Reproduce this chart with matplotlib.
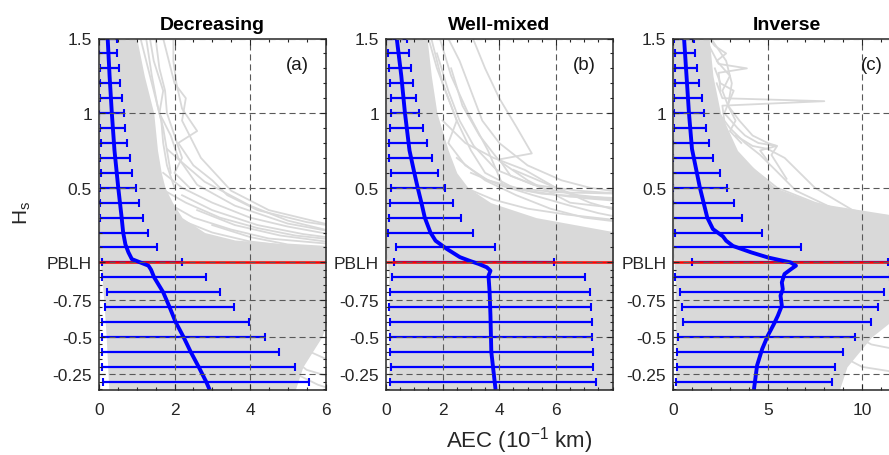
import matplotlib
matplotlib.use("Agg")
import matplotlib.pyplot as plt
from matplotlib.ticker import FixedLocator

plt.rcParams['font.family'] = ['Liberation Sans', 'DejaVu Sans']
plt.rcParams['mathtext.default'] = 'regular'

# normalised height of the error-bar rows (PBLH = 0, below PBLH runs downwards)
levels = [1.5, 1.4, 1.3, 1.2, 1.1, 1.0, 0.9, 0.8, 0.7, 0.6, 0.5, 0.4, 0.3, 0.2, 0.1,
          0.0, -0.1, -0.2, -0.3, -0.4, -0.5, -0.6, -0.7, -0.8]

# mean and std of AEC at each row
a_bar_mean = [0.23, 0.25, 0.27, 0.29, 0.31, 0.34, 0.36, 0.39, 0.42, 0.47, 0.51, 0.55, 0.60, 0.64, 0.75,
              1.15, 1.46, 1.70, 1.87, 2.03, 2.24, 2.43, 2.64, 2.84]
a_bar_std = [0.24, 0.24, 0.25, 0.26, 0.29, 0.33, 0.34, 0.34, 0.39, 0.41, 0.48, 0.52, 0.57, 0.67, 0.79,
             1.06, 1.37, 1.50, 1.71, 1.94, 2.16, 2.35, 2.55, 2.73]
b_bar_mean = [0.38, 0.43, 0.49, 0.54, 0.61, 0.67, 0.73, 0.79, 0.86, 1.00, 1.12, 1.25, 1.37, 1.57, 2.10,
              3.10, 3.62, 3.66, 3.68, 3.70, 3.71, 3.72, 3.74, 3.78]
b_bar_std = [0.37, 0.37, 0.39, 0.40, 0.45, 0.51, 0.59, 0.67, 0.77, 0.84, 0.96, 1.12, 1.27, 1.49, 1.74,
             2.82, 3.42, 3.53, 3.56, 3.56, 3.57, 3.58, 3.58, 3.65]
c_bar_mean = [0.57, 0.62, 0.68, 0.73, 0.78, 0.83, 0.88, 0.95, 1.05, 1.20, 1.41, 1.58, 1.80, 2.40, 3.30,
              6.20, 5.80, 5.78, 5.66, 5.50, 4.95, 4.60, 4.38, 4.26]
c_bar_std = [0.54, 0.53, 0.59, 0.65, 0.72, 0.79, 0.85, 0.95, 1.04, 1.28, 1.43, 1.61, 1.85, 2.29, 3.47,
             5.20, 5.70, 5.40, 5.21, 4.98, 4.68, 4.41, 4.19, 4.14]

# mean AEC profiles (fine vertical resolution)
a_prof_y = [1.5, 1.25, 1.0, 0.75, 0.5, 0.3, 0.2, 0.12, 0.067, 0.022, 0.0, -0.022, -0.05, -0.1,
            -0.2, -0.3, -0.4, -0.5, -0.6, -0.7, -0.8, -0.853]
a_prof_x = [0.23, 0.28, 0.34, 0.41, 0.51, 0.60, 0.64, 0.70, 0.78, 0.87, 1.09, 1.31, 1.38, 1.46,
            1.70, 1.87, 2.03, 2.24, 2.43, 2.64, 2.84, 2.93]
b_prof_y = [1.5, 1.25, 1.0, 0.75, 0.6, 0.5, 0.4, 0.3, 0.2, 0.145, 0.09, 0.035, 0.01, -0.01,
            -0.033, -0.056, -0.09, -0.2, -0.36, -0.6, -0.853]
b_prof_x = [0.38, 0.54, 0.67, 0.83, 1.00, 1.12, 1.25, 1.37, 1.57, 1.75, 2.15, 2.61, 2.96, 3.27,
            3.56, 3.69, 3.62, 3.66, 3.69, 3.72, 3.87]
c_prof_y = [1.5, 1.25, 1.0, 0.76, 0.5, 0.3, 0.223, 0.174, 0.145, 0.11, 0.067, 0.033, 0.011, 0.0,
            -0.022, -0.045, -0.078, -0.134, -0.18, -0.223, -0.29, -0.357, -0.413, -0.49, -0.58,
            -0.69, -0.853]
c_prof_x = [0.57, 0.70, 0.83, 0.99, 1.41, 1.80, 2.10, 2.63, 2.80, 3.16, 4.13, 5.01, 5.80, 6.21,
            6.50, 6.24, 5.89, 5.75, 5.80, 5.68, 5.75, 5.54, 5.33, 5.01, 4.71, 4.44, 4.27]

# envelope of the bulk of individual profiles
core_y = [1.5, 1.25, 1.0, 0.75, 0.6, 0.5, 0.4, 0.3, 0.2, 0.15, 0.1, 0.05, 0.0,
          -0.1, -0.3, -0.5, -0.7, -0.853]
a_core_lo = [0, 0, 0, 0, 0, 0, 0, 0, 0, 0, 0, 0, 0.03, 0.08, 0.14, 0.19, 0.23, 0.26]
a_core_hi = [1.0, 1.2, 1.45, 1.55, 1.65, 1.75, 1.95, 2.2, 2.8, 3.6, 6.2, 6.2, 6.2, 6.2, 6.2, 5.9, 5.4, 5.2]
b_core_lo = [0, 0, 0, 0, 0, 0, 0, 0, 0, 0, 0, 0, 0.05, 0.1, 0.1, 0.1, 0.1, 0.1]
b_core_hi = [1.45, 1.6, 1.8, 2.2, 2.5, 2.9, 3.7, 5.3, 8.2, 8.2, 8.2, 8.2, 8.2, 8.2, 8.2, 8.2, 8.2, 8.2]
c_core_lo = [0, 0, 0, 0, 0, 0, 0, 0, 0, 0, 0, 0, 0.05, 0.1, 0.1, 0.1, 0.12, 0.15]
c_core_hi = [1.9, 2.1, 2.5, 3.4, 4.5, 5.4, 7.5, 12.5, 12.5, 12.5, 12.5, 12.5, 12.5, 12.5, 12.5,
             10.5, 9.2, 8.8]

# individual profiles standing out from the bulk: (AEC, height)
a_profiles = [
    ([1.97, 1.97, 2.05, 2.2, 2.6, 2.1, 2.5, 3.0, 3.4, 4.2, 5.5, 6.3], [1.5, 1.35, 1.2, 1.03, 0.88, 0.8, 0.65, 0.55, 0.45, 0.35, 0.27, 0.24]),
    ([1.5, 1.6, 1.75, 1.8, 2.0, 2.2, 2.0, 2.4], [1.5, 1.3, 1.15, 1.0, 0.85, 0.7, 0.6, 0.5]),
    ([1.25, 1.4, 1.55, 1.7, 1.8, 1.9], [1.5, 1.25, 1.05, 0.9, 0.75, 0.6]),
    ([1.1, 1.3, 1.5, 1.65, 1.7, 1.8, 2.0], [1.5, 1.3, 1.1, 0.95, 0.8, 0.65, 0.5]),
    ([1.35, 1.45, 1.7, 1.6, 1.9, 2.1, 2.6, 3.6, 5.0, 6.3], [1.5, 1.35, 1.15, 1.0, 0.85, 0.7, 0.52, 0.38, 0.26, 0.2]),
    ([1.7, 1.8, 2.0, 2.3, 2.2, 2.7, 3.5, 4.5, 6.3], [1.5, 1.4, 1.2, 1.1, 0.95, 0.7, 0.48, 0.35, 0.24]),
    ([1.8, 2.2, 2.8, 3.1, 4.0, 5.0, 6.3], [0.76, 0.67, 0.54, 0.5, 0.38, 0.28, 0.2]),
    ([1.7, 2.2, 3.0, 4.0, 5.0, 6.3], [0.6, 0.5, 0.4, 0.3, 0.24, 0.18]),
    ([1.6, 2.3, 3.2, 4.2, 5.2, 6.3], [0.5, 0.4, 0.3, 0.23, 0.18, 0.15]),
    ([2.2, 3.0, 4.2, 5.4, 6.3], [0.45, 0.35, 0.25, 0.19, 0.16]),
    ([1.8, 2.5, 3.5, 4.5, 6.3], [0.4, 0.3, 0.22, 0.16, 0.12]),
    ([2.6, 3.6, 4.8, 6.3], [0.35, 0.25, 0.18, 0.13]),
    ([2.0, 3.0, 4.0, 5.0, 6.3], [0.3, 0.2, 0.14, 0.11, 0.09]),
    ([3.0, 4.0, 5.0, 6.3], [0.25, 0.17, 0.12, 0.1]),
    ([5.0, 5.6, 6.3], [-0.45, -0.6, -0.68]),
    ([4.9, 5.5, 6.3], [-0.6, -0.72, -0.78]),
    ([5.0, 5.8, 6.3], [-0.72, -0.82, -0.86]),
]
b_profiles = [
    ([3.07, 3.5, 4.0, 4.6, 5.15, 4.0, 4.4, 5.5, 6.8, 8.3], [1.5, 1.3, 1.1, 0.91, 0.73, 0.69, 0.58, 0.5, 0.45, 0.42]),
    ([1.9, 2.3, 2.9, 3.6, 4.14, 5.5, 7.0, 8.3], [1.5, 1.25, 1.0, 0.75, 0.51, 0.46, 0.44, 0.43]),
    ([1.6, 2.0, 2.5, 3.0, 3.5, 4.5, 6.0, 8.3], [1.5, 1.2, 0.95, 0.75, 0.6, 0.5, 0.47, 0.46]),
    ([1.5, 1.8, 2.2, 2.5, 2.2, 2.8, 3.6, 5.0, 6.5, 8.3], [1.5, 1.3, 1.1, 0.95, 0.8, 0.65, 0.55, 0.48, 0.44, 0.42]),
    ([2.2, 2.6, 3.0, 3.4, 4.0, 5.0, 6.2, 7.2, 8.3], [1.5, 1.35, 1.15, 0.95, 0.8, 0.65, 0.55, 0.5, 0.47]),
    ([1.8, 2.2, 2.6, 3.1, 3.9, 5.2, 6.8, 8.3], [1.4, 1.15, 0.95, 0.78, 0.62, 0.52, 0.48, 0.46]),
    ([2.3, 2.7, 3.3, 4.0, 5.0, 6.5, 8.3], [1.3, 1.05, 0.85, 0.68, 0.55, 0.4, 0.36]),
    ([2.0, 2.8, 3.8, 4.9, 6.0, 7.2, 8.3], [0.95, 0.8, 0.7, 0.62, 0.5, 0.4, 0.34]),
    ([2.5, 3.5, 4.6, 5.8, 7.0, 8.3], [0.7, 0.55, 0.45, 0.36, 0.3, 0.27]),
    ([4.5, 6.0, 7.0, 8.3], [0.62, 0.5, 0.43, 0.41]),
    ([3.0, 4.0, 5.2, 6.5, 7.5, 8.3], [0.6, 0.52, 0.45, 0.38, 0.33, 0.3]),
    ([2.8, 3.8, 5.0, 6.4, 8.3], [0.5, 0.42, 0.36, 0.32, 0.28]),
]
c_profiles = [
    ([2.3, 2.6, 8.0, 2.6, 2.7], [1.2, 1.1, 1.08, 1.05, 0.95]),
    ([1.9, 2.4, 3.9, 2.4, 2.5], [1.45, 1.33, 1.3, 1.27, 1.15]),
    ([1.9, 2.2, 2.8, 2.3, 3.0, 2.6, 2.9, 3.3, 3.0, 3.6], [1.5, 1.45, 1.4, 1.35, 1.25, 1.15, 1.05, 0.95, 0.88, 0.8]),
    ([2.2, 2.5, 3.2, 2.7, 3.4, 3.8, 4.5, 5.47, 4.6, 5.0], [1.3, 1.2, 1.15, 1.0, 0.9, 0.85, 0.8, 0.78, 0.75, 0.68]),
    ([2.0, 2.8, 3.1, 2.9, 3.5, 4.2, 5.0, 5.5, 5.2, 6.0], [1.5, 1.35, 1.2, 1.05, 0.95, 0.85, 0.8, 0.78, 0.72, 0.56]),
    ([2.4, 3.0, 3.8, 4.6, 5.4, 6.5, 8.5, 12.5], [1.0, 0.9, 0.8, 0.72, 0.62, 0.48, 0.36, 0.28]),
    ([3.3, 4.2, 5.0, 5.9, 7.5, 9.5, 12.5], [0.85, 0.78, 0.76, 0.7, 0.5, 0.35, 0.26]),
    ([3.25, 4.5, 6.0, 8.0, 10.0, 12.5], [0.58, 0.45, 0.37, 0.3, 0.26, 0.24]),
    ([4.0, 5.5, 7.5, 9.5, 12.5], [0.65, 0.5, 0.4, 0.33, 0.3]),
    ([4.5, 6.0, 8.0, 10.0, 12.5], [0.55, 0.42, 0.34, 0.3, 0.27]),
    ([5.0, 7.0, 9.0, 12.5], [0.45, 0.36, 0.32, 0.29]),
    ([9.0, 10.5, 12.5], [-0.45, -0.55, -0.6]),
    ([8.5, 10.0, 12.5], [-0.6, -0.7, -0.75]),
]

titles = ['Decreasing', 'Well-mixed', 'Inverse']
tags = ['(a)', '(b)', '(c)']
x_limits = [(0, 6), (0, 8), (0, 12)]
x_major = [[0, 2, 4, 6], [0, 2, 4, 6], [0, 5, 10]]
x_minor_step = [0.5, 0.5, 1.0]

y_ticks = [1.5, 1.0, 0.5, 0.0, -0.25, -0.5, -0.75]
y_ticklabels = ['1.5', '1', '0.5', 'PBLH', '-0.75', '-0.5', '-0.25']
y_minor = [round(0.1 * i, 2) for i in range(1, 15)] + [round(-0.05 * i, 2) for i in range(1, 18)]

panels = [
    (a_bar_mean, a_bar_std, a_prof_x, a_prof_y, a_core_lo, a_core_hi, a_profiles),
    (b_bar_mean, b_bar_std, b_prof_x, b_prof_y, b_core_lo, b_core_hi, b_profiles),
    (c_bar_mean, c_bar_std, c_prof_x, c_prof_y, c_core_lo, c_core_hi, c_profiles),
]

W, H = 889, 456
fig = plt.figure(figsize=(W / 100, H / 100), dpi=100)
lefts = [99, 386, 673.3]
ax_w, ax_top, ax_bot = 226.5, 39.5, 390.7
gray = '#d9d9d9'

for i, (bm, bs, px, py, clo, chi, profs) in enumerate(panels):
    ax = fig.add_axes([lefts[i] / W, 1 - ax_bot / H, ax_w / W, (ax_bot - ax_top) / H])

    ax.fill_betweenx(core_y, clo, chi, color=gray, lw=0, zorder=1)
    for xs, ys in profs:
        ax.plot(xs, ys, color=gray, lw=1.3, zorder=1)

    ax.errorbar(bm, levels, xerr=bs, fmt='none', ecolor='#0000ff', elinewidth=1.6,
                capsize=3, capthick=1.5, zorder=1.5)
    ax.axhline(0, color='red', lw=1.8, zorder=2)
    ax.plot(px, py, color='#0000ff', lw=2.8, zorder=2.2, solid_capstyle='butt')

    ax.set_xlim(*x_limits[i])
    ax.set_ylim(-0.853, 1.5)
    ax.set_xticks(x_major[i])
    ax.xaxis.set_minor_locator(FixedLocator(
        [k * x_minor_step[i] for k in range(int(x_limits[i][1] / x_minor_step[i]) + 1)]))
    ax.set_yticks(y_ticks)
    ax.set_yticklabels(y_ticklabels)
    ax.yaxis.set_minor_locator(FixedLocator(y_minor))

    ax.set_axisbelow(False)
    ax.grid(True, which='major', linestyle=(0, (5.5, 3.5)), color='0.35', lw=0.8)
    ax.tick_params(which='both', direction='in', top=True, right=True,
                   color='0.15', width=0.8, labelsize=12.5, labelcolor='0.15')
    ax.tick_params(which='major', length=4)
    ax.tick_params(which='minor', length=2.2)
    ax.tick_params(axis='x', pad=9)
    ax.tick_params(axis='y', pad=5)
    for sp in ax.spines.values():
        sp.set_linewidth(1.1)
        sp.set_color('0.15')

    ax.text(0.5, 1.027, titles[i], transform=ax.transAxes, ha='center', va='baseline',
            fontsize=14, fontweight='bold')
    ax.text(0.925, 0.927, tags[i], transform=ax.transAxes, ha='right', va='center',
            fontsize=13.5, color='0.1')

fig.text(22 / W, 1 - 213 / H, 'H$_s$', rotation=90, ha='center', va='center',
         fontsize=15, color='0.15')
fig.text(519 / W, 1 - 441 / H, 'AEC (10$^{-1}$ km)', ha='center', va='center',
         fontsize=16, color='0.15')

fig.savefig('out.png', dpi=100)
